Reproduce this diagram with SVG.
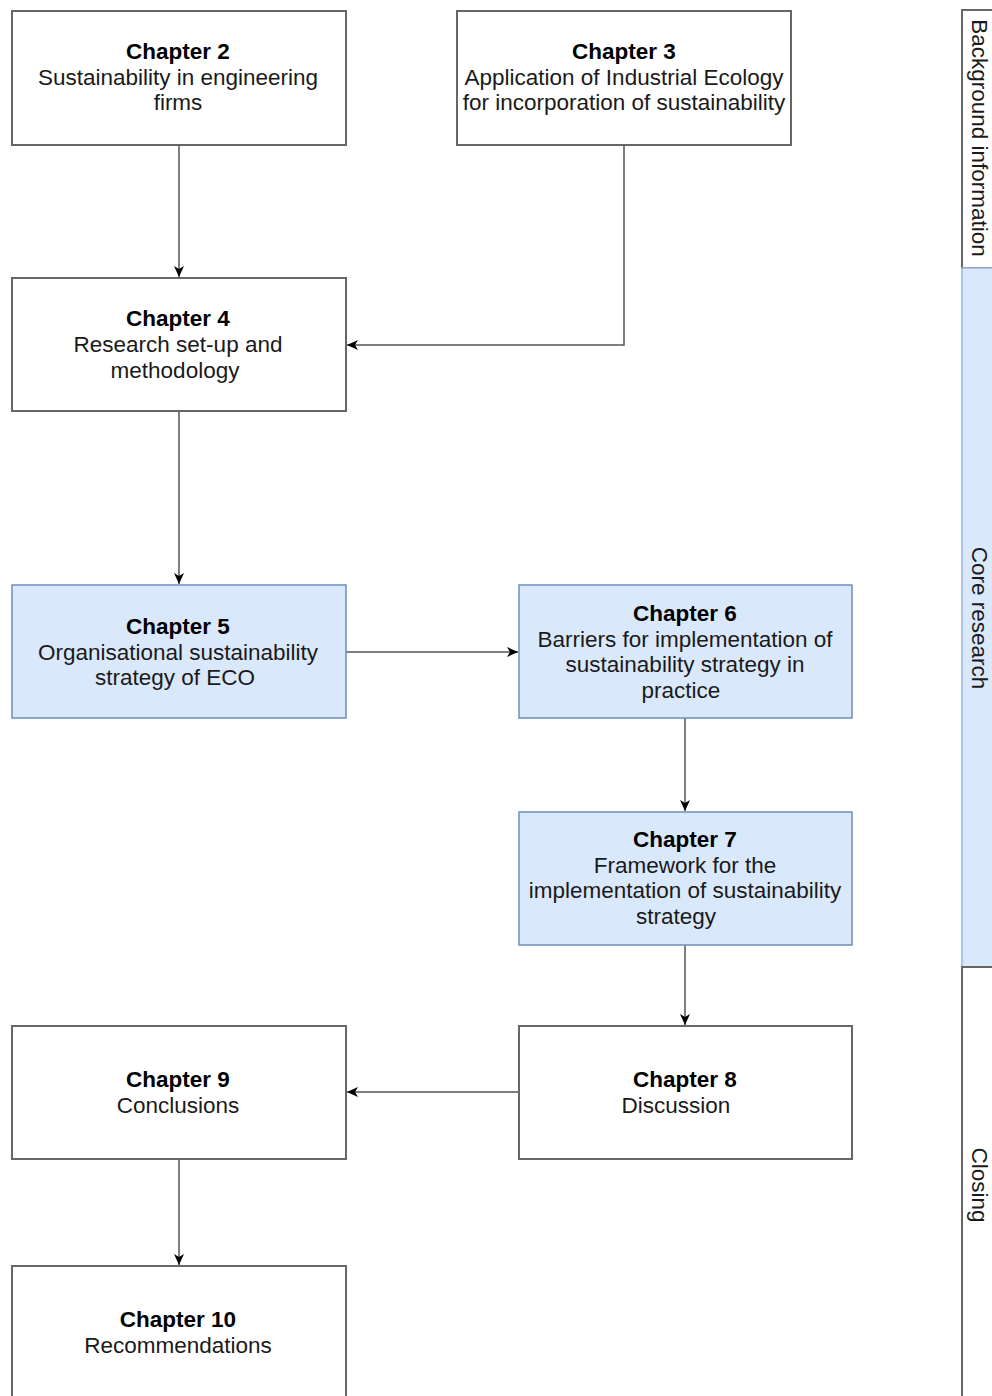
<svg xmlns="http://www.w3.org/2000/svg" width="992" height="1396" viewBox="0 0 992 1396">
  <style>
    .plain { fill: #ffffff; stroke: #666666; stroke-width: 2; }
    .core { fill: #dae8fc; stroke: #6c8ebf; stroke-width: 1.5; }
    .lane { fill: #ffffff; stroke: #666666; stroke-width: 2; }
    .lane-core { fill: #dae8fc; stroke: #9eb6da; stroke-width: 1.5; }
    text { font-family: "Liberation Sans", Arial, sans-serif; font-size: 22.5px; fill: #1a1a1a; text-anchor: middle; }
    .title { font-weight: bold; fill: #000000; }
    .edge { fill: none; stroke: #555555; stroke-width: 1.5; }
  </style>
  <defs>
    <marker id="arrow" markerUnits="userSpaceOnUse" markerWidth="13" markerHeight="11" refX="11" refY="5" orient="auto">
      <path d="M0,0 L11,5 L0,10 L3,5 z" fill="#000000"/>
    </marker>
  </defs>

  <!-- Phase lanes on the right edge -->
  <g id="lane-background">
    <rect class="lane" x="962" y="10" width="40" height="258"/>
    <text transform="translate(980,138) rotate(90)" y="8">Background information</text>
  </g>
  <g id="lane-core">
    <rect class="lane-core" x="962" y="268" width="40" height="699"/>
    <text transform="translate(980,618) rotate(90)" y="8">Core research</text>
  </g>
  <g id="lane-closing">
    <rect class="lane" x="962" y="967" width="40" height="440"/>
    <text transform="translate(980,1185) rotate(90)" y="8">Closing</text>
  </g>

  <!-- Connectors -->
  <g id="connectors">
    <path class="edge" d="M179,145 V277" marker-end="url(#arrow)"/>
    <path class="edge" d="M624,145 V345 H347" marker-end="url(#arrow)"/>
    <path class="edge" d="M179,411 V584" marker-end="url(#arrow)"/>
    <path class="edge" d="M346,652 H518" marker-end="url(#arrow)"/>
    <path class="edge" d="M685,718 V811" marker-end="url(#arrow)"/>
    <path class="edge" d="M685,945 V1025" marker-end="url(#arrow)"/>
    <path class="edge" d="M519,1092 H347" marker-end="url(#arrow)"/>
    <path class="edge" d="M179,1159 V1265" marker-end="url(#arrow)"/>
  </g>

  <!-- Chapter nodes -->
  <g id="chapter2">
    <rect class="plain" x="12" y="11" width="334" height="134"/>
    <text class="title" x="178" y="59">Chapter 2</text>
    <text x="178" y="85">Sustainability in engineering</text>
    <text x="178" y="110">firms</text>
  </g>
  <g id="chapter3">
    <rect class="plain" x="457" y="11" width="334" height="134"/>
    <text class="title" x="624" y="59">Chapter 3</text>
    <text x="624" y="85">Application of Industrial Ecology</text>
    <text x="624" y="110">for incorporation of sustainability</text>
  </g>
  <g id="chapter4">
    <rect class="plain" x="12" y="278" width="334" height="133"/>
    <text class="title" x="178" y="326">Chapter 4</text>
    <text x="178" y="352">Research set-up and</text>
    <text x="175" y="378">methodology</text>
  </g>
  <g id="chapter5">
    <rect class="core" x="12" y="585" width="334" height="133"/>
    <text class="title" x="178" y="634">Chapter 5</text>
    <text x="178" y="660">Organisational sustainability</text>
    <text x="175" y="685">strategy of ECO</text>
  </g>
  <g id="chapter6">
    <rect class="core" x="519" y="585" width="333" height="133"/>
    <text class="title" x="685" y="621">Chapter 6</text>
    <text x="685" y="647">Barriers for implementation of</text>
    <text x="685" y="672">sustainability strategy in</text>
    <text x="681" y="698">practice</text>
  </g>
  <g id="chapter7">
    <rect class="core" x="519" y="812" width="333" height="133"/>
    <text class="title" x="685" y="847">Chapter 7</text>
    <text x="685" y="873">Framework for the</text>
    <text x="685" y="898">implementation of sustainability</text>
    <text x="676" y="924">strategy</text>
  </g>
  <g id="chapter8">
    <rect class="plain" x="519" y="1026" width="333" height="133"/>
    <text class="title" x="685" y="1087">Chapter 8</text>
    <text x="676" y="1113">Discussion</text>
  </g>
  <g id="chapter9">
    <rect class="plain" x="12" y="1026" width="334" height="133"/>
    <text class="title" x="178" y="1087">Chapter 9</text>
    <text x="178" y="1113">Conclusions</text>
  </g>
  <g id="chapter10">
    <rect class="plain" x="12" y="1266" width="334" height="145"/>
    <text class="title" x="178" y="1327">Chapter 10</text>
    <text x="178" y="1353">Recommendations</text>
  </g>
</svg>
